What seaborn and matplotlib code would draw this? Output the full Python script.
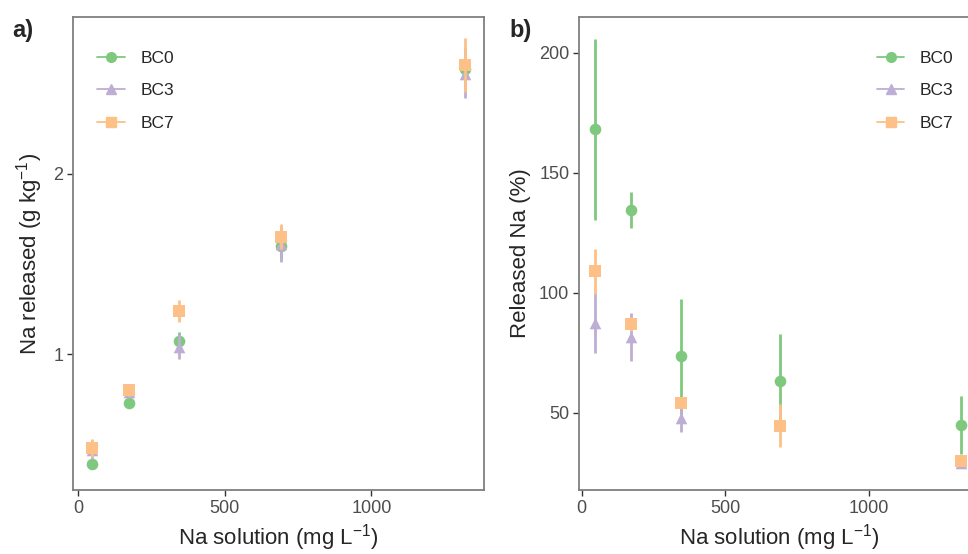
import numpy as np
import pandas as pd
import matplotlib
matplotlib.use('agg')
import matplotlib.pyplot as plt
import seaborn as sns
from matplotlib.lines import Line2D

# Na solution concentrations (mg L-1)
na_solution = [46, 172, 345, 690, 1320]
groups = ["BC0", "BC3", "BC7"]

# panel a: Na released (g kg-1), mean and error
released = {
    "BC0": [0.39, 0.73, 1.07, 1.60, 2.58],
    "BC3": [0.47, 0.79, 1.04, 1.61, 2.55],
    "BC7": [0.48, 0.80, 1.24, 1.65, 2.60],
}
released_err = {
    "BC0": [0.02, 0.02, 0.05, 0.08, 0.12],
    "BC3": [0.05, 0.03, 0.07, 0.10, 0.13],
    "BC7": [0.05, 0.03, 0.06, 0.07, 0.15],
}

# panel b: released Na (%), mean and error
released_pct = {
    "BC0": [168.2, 134.6, 73.5, 63.1, 44.9],
    "BC3": [87.6, 81.5, 48.0, 45.0, 29.0],
    "BC7": [108.9, 87.0, 53.9, 44.6, 29.7],
}
released_pct_err = {
    "BC0": [37.8, 7.4, 24.0, 19.8, 11.9],
    "BC3": [12.5, 10.0, 6.0, 3.0, 2.0],
    "BC7": [9.5, 3.0, 2.0, 9.0, 2.0],
}

sns.set_style("white")
plt.rcParams['font.family'] = ['Liberation Sans', 'DejaVu Sans']
plt.rcParams['mathtext.default'] = 'regular'

palette = dict(zip(groups, sns.color_palette("Accent", 3)))
markers = {"BC0": "o", "BC3": "^", "BC7": "s"}
W, H = 968, 554


def build_df(vals, errs):
    rows = []
    for g in groups:
        for x, v, e in zip(na_solution, vals[g], errs[g]):
            rows.append({"x": x, "y": v, "err": e, "Group": g})
    return pd.DataFrame(rows)


def draw_panel(ax, df):
    z = 2
    for g in groups:
        sub = df[df["Group"] == g]
        ax.vlines(sub["x"], sub["y"] - sub["err"], sub["y"] + sub["err"],
                  color=palette[g], linewidth=2, zorder=z)
        sns.scatterplot(data=sub, x="x", y="y", color=palette[g], marker=markers[g],
                        s=70, linewidth=0, ax=ax, zorder=z + 0.5, legend=False)
        z += 1
    for s in ax.spines.values():
        s.set_color("#7f7f7f")
        s.set_linewidth(1.3)
    ax.tick_params(axis='both', which='both', length=4, width=1, color="#333333",
                   labelsize=13, labelcolor="#4d4d4d", direction='out',
                   bottom=True, left=True, pad=3)


def add_legend(ax, loc, anchor):
    handles = [Line2D([0], [0], color=palette[g], marker=markers[g], markersize=7,
                      linewidth=1.3) for g in groups]
    ax.legend(handles, groups, loc=loc, bbox_to_anchor=anchor, frameon=False,
              fontsize=12.5, handlelength=1.6, handletextpad=0.9, labelspacing=1.0)


fig = plt.figure(figsize=(W / 100, H / 100), dpi=100)
ax1 = fig.add_axes([73 / W, 1 - 490 / H, (484 - 73) / W, (490 - 17) / H])
ax2 = fig.add_axes([579 / W, 1 - 490 / H, (979 - 579) / W, (490 - 17) / H])

df_a = build_df(released, released_err)
draw_panel(ax1, df_a)
ax1.set_xlim(-18, 1384)
ax1.set_ylim(0.247, 2.867)
ax1.set_xticks([0, 500, 1000])
ax1.set_yticks([1, 2])
ax1.set_xlabel("Na solution (mg L$^{-1}$)", fontsize=16, labelpad=4)
ax1.set_ylabel("Na released (g kg$^{-1}$)", fontsize=16, labelpad=6)
add_legend(ax1, "upper left", (0.02, 0.962))

df_b = build_df(released_pct, released_pct_err)
draw_panel(ax2, df_b)
ax2.set_xlim(-9, 1384)
ax2.set_ylim(17.8, 215)
ax2.set_xticks([0, 500, 1000])
ax2.set_yticks([50, 100, 150, 200])
ax2.set_xlabel("Na solution (mg L$^{-1}$)", fontsize=16, labelpad=4)
ax2.set_ylabel("Released Na (%)", fontsize=16, labelpad=6)
add_legend(ax2, "upper left", (0.705, 0.962))

fig.text(12 / W, 1 - 30 / H, "a)", fontsize=17, fontweight='bold', va='center')
fig.text(509 / W, 1 - 30 / H, "b)", fontsize=17, fontweight='bold', va='center')

fig.savefig("out.png", dpi=100)
